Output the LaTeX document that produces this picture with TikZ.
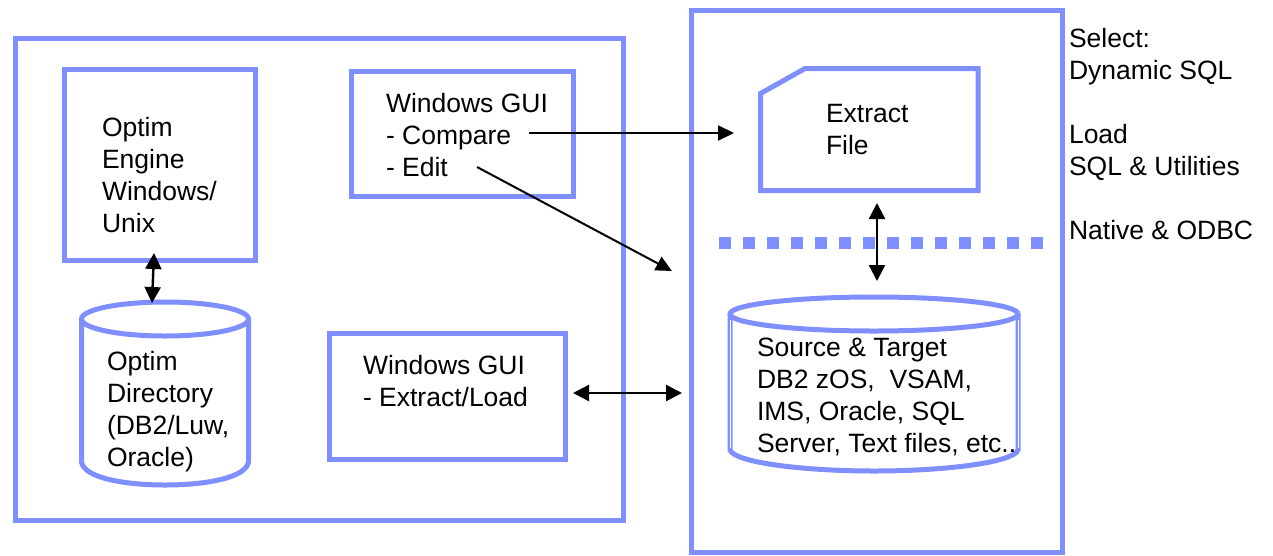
\documentclass[tikz,border=0pt]{standalone}
\usepackage{fontspec}
\setmainfont{Liberation Sans}
\usetikzlibrary{arrows.meta}
\definecolor{boxblue}{HTML}{7F8FFF}
\tikzset{
  x=1pt,y=-1pt,
  bluebox/.style={draw=boxblue,line width=5pt,fill=none,inner sep=0pt,outer sep=0pt},
  blueline/.style={draw=boxblue,line width=5pt,line join=miter},
  label/.style={anchor=north west,inner sep=0pt,outer sep=0pt,align=left,text=black,font=\fontsize{26.5}{32}\selectfont},
  link/.style={draw=black,line width=2.4pt,{Triangle[length=16pt,width=16pt]}-{Triangle[length=16pt,width=16pt]}},
  onelink/.style={draw=black,line width=2pt,-{Triangle[length=16pt,width=15pt]}},
}
\begin{document}
\begin{tikzpicture}
\useasboundingbox (0,0) rectangle (1273,555);
% panels
\node[bluebox,minimum width=608pt,minimum height=482pt] (leftpanel) at (319,279) {};
\node[bluebox,minimum width=371pt,minimum height=542pt] (rightpanel) at (876.5,281) {};
% boxes
\node[bluebox,minimum width=191pt,minimum height=191pt] (engine) at (160,164.5) {};
\node[bluebox,minimum width=222pt,minimum height=125pt] (guitop) at (462,133.5) {};
\node[bluebox,minimum width=236pt,minimum height=126pt] (guibottom) at (447,396) {};
% extract file
\draw[blueline] (805,68.5) -- (978,68.5) -- (978,190.5) -- (760.5,190.5) -- (760.5,93.5) -- cycle;
% dotted line
\coordinate (dotA) at (719,243);
\coordinate (dotB) at (1044,243);
\draw[draw=boxblue,line width=12pt,dash pattern=on 12pt off 12pt] (dotA) -- (dotB);
% left cylinder
\draw[blueline] (81.5,319) -- (81.5,462) .. controls (84,478) and (125,485) .. (165,485) .. controls (205,485) and (246,478) .. (248.5,462) -- (248.5,319);
\draw[blueline] (165,319) ellipse [x radius=83.5pt,y radius=17pt];
% right cylinder
\draw[blueline] (730,314) -- (730,450) .. controls (734,462) and (800,471) .. (874,471) .. controls (948,471) and (1014,462) .. (1018,450) -- (1018,314);
\draw[blueline] (874,314) ellipse [x radius=144pt,y radius=17pt];
\draw[white,line width=1pt] (730,320) -- (730,448);
\draw[white,line width=1pt] (1018,320) -- (1018,448);
% texts
\node[label] (t1) at (102,117) {Optim\\Engine\\Windows/\\Unix};
\node[label] (t2) at (386,93) {Windows GUI\\- Compare\\- Edit};
\node[label] (t3) at (363,355) {Windows GUI\\- Extract/Load};
\node[label] (t4) at (826,104) {Extract\\File};
\node[label] (t5) at (107,351) {Optim\\Directory\\(DB2/Luw,\\Oracle)};
\node[label] (t6) at (757,338) {Source \& Target\\DB2 zOS,\ \ VSAM,\\IMS, Oracle, SQL\\Server, Text files, etc..};
\node[label] (t7) at (1069,28) {Select:\\Dynamic SQL\\\strut\\Load\\SQL \& Utilities\\\strut\\Native \& ODBC};
% connectors
\coordinate (a1) at (154,253);
\coordinate (a2) at (152,303);
\coordinate (b1) at (877,203);
\coordinate (b2) at (877,281);
\coordinate (c1) at (529,133);
\coordinate (c2) at (734,133);
\coordinate (d1) at (477,167);
\coordinate (d2) at (672,271);
\coordinate (e1) at (573,393);
\coordinate (e2) at (682,393);
\draw[link] (a1) -- (a2);
\draw[link] (b1) -- (b2);
\draw[onelink] (c1) -- (c2);
\draw[onelink] (d1) -- (d2);
\draw[link] (e1) -- (e2);
\end{tikzpicture}
\end{document}
